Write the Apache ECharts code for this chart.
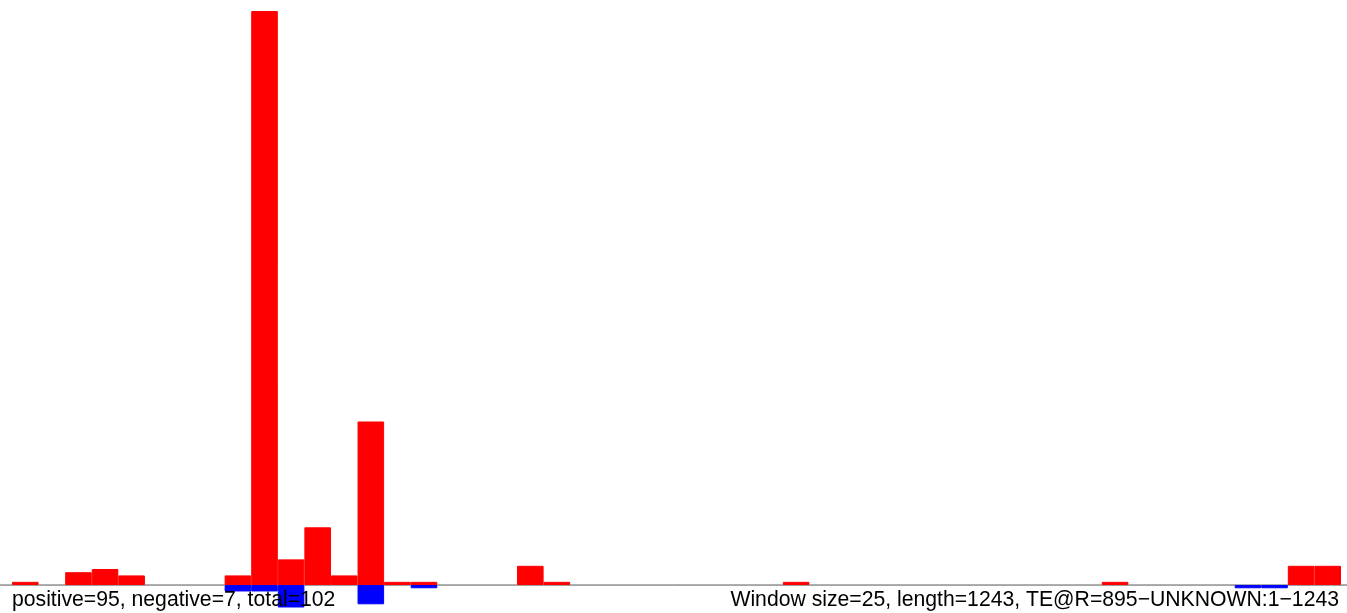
<!DOCTYPE html>
<html>
<head>
<meta charset="utf-8">
<script src="https://cdn.jsdelivr.net/npm/echarts@6/dist/echarts.min.js"></script>
<style>
html,body{margin:0;padding:0;background:#fff;}
#chart{width:1347px;height:613px;}
</style>
</head>
<body>
<div id="chart"></div>
<script>
// Window index (window size 25 over length 1243 -> 50 windows)
const windows = Array.from({length: 50}, (_, i) => String(i + 1));
// Positive counts per window
const positive = [1,0,4,5,3,0,0,0,3,179, 8,18,3,51,1,1,0,0,0,6, 1,0,0,0,0,0,0,0,0,1, 0,0,0,0,0,0,0,0,0,0, 0,1,0,0,0,0,0,0,6,6];
// Negative counts per window (drawn below baseline)
const negative = [0,0,0,0,0,0,0,0,-2,-2, -7,0,0,-6,0,-1,0,0,0,0, 0,0,0,0,0,0,0,0,0,0, 0,0,0,0,0,0,0,0,0,0, 0,0,0,0,0,0,-1,-1,0,0];
const leftLabel = 'positive=95, negative=7, total=102';
const rightLabel = 'Window size=25, length=1243, TE@R=895\u2212UNKNOWN:1\u22121243';

// empty windows draw no bar
const toBars = arr => arr.map(v => (v === 0 ? '-' : v));

const chart = echarts.init(document.getElementById('chart'), null, {renderer: 'canvas'});
const yMax = 179, yMin = -8;
const option = {
  animation: false,
  backgroundColor: '#ffffff',
  grid: {left: 12, right: 6, top: 11, bottom: 2.3, containLabel: false},
  xAxis: {
    type: 'category', data: windows, boundaryGap: true,
    axisLine: {show: false}, axisTick: {show: false}, axisLabel: {show: false}, splitLine: {show: false}
  },
  yAxis: {
    type: 'value', min: yMin, max: yMax,
    axisLine: {show: false}, axisTick: {show: false}, axisLabel: {show: false}, splitLine: {show: false}
  },
  series: [
    {type: 'bar', name: 'positive', data: toBars(positive), barCategoryGap: '0%', barGap: '-100%',
     itemStyle: {color: '#ff0000', borderColor: '#ff0000', borderWidth: 1}, z: 3},
    {type: 'bar', name: 'negative', data: toBars(negative), barCategoryGap: '0%', barGap: '-100%',
     itemStyle: {color: '#0000ff', borderColor: '#0000ff', borderWidth: 1}, z: 3}
  ]
};
chart.setOption(option);
const y0 = chart.convertToPixel({yAxisIndex: 0}, 0);
chart.setOption({
  graphic: [
    {type: 'line', z: 1, shape: {x1: 0, y1: y0, x2: 1347, y2: y0}, style: {stroke: '#555555', lineWidth: 1}},
    {type: 'text', z: 10, left: 12, top: 590, style: {text: leftLabel, fill: '#000', font: '21.2px "Liberation Sans", Arial, sans-serif'}},
    {type: 'text', z: 10, right: 8, top: 590, style: {text: rightLabel, fill: '#000', font: '21.2px "Liberation Sans", Arial, sans-serif'}}
  ]
});
</script>
</body>
</html>
